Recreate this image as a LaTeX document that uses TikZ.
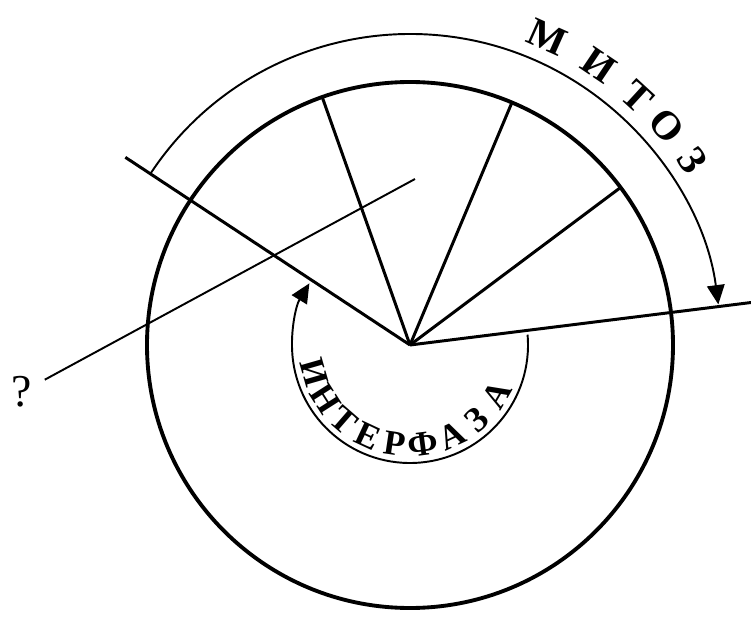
\documentclass[tikz,border=0pt]{standalone}
\usepackage{fontspec}
\setmainfont{Liberation Serif}
\usetikzlibrary{arrows.meta}

\begin{document}
\begin{tikzpicture}[x=0.02cm, y=0.02cm, >={Triangle[length=11pt,width=10pt]},
  ring/.style={line width=2.2pt},
  spoke/.style={line width=1.7pt},
  phase/.style={line width=1.1pt, ->},
  mitletter/.style={font=\fontsize{23}{27}\selectfont\bfseries, inner sep=0pt},
  intletter/.style={font=\fontsize{20}{24}\selectfont\bfseries, inner sep=0pt}]
  \useasboundingbox (-410,-274) rectangle (341,345);
  \coordinate (C) at (0,0);
  % cycle boundaries
  \coordinate (B1) at (146.6:341);
  \coordinate (B2) at (109.5:263);
  \coordinate (B3) at (67.2:263);
  \coordinate (B4) at (36.8:263);
  \coordinate (B5) at (7.1:344);
  \draw[ring] (C) circle[radius=263];
  \foreach \b in {B1,B2,B3,B4,B5}
    \draw[spoke] (C) -- (\b);
  % mitosis
  \coordinate (M0) at (146.6:311);
  \draw[phase] (M0) arc[start angle=146.6, end angle=7.5, radius=311];
  \foreach \ch/\a [count=\i] in {М/65.9, И/56, Т/47.5, О/40.5, З/33.2}
    \node[mitletter, rotate=\a-90] (mit\i) at (\a:337) {\ch};
  % interphase
  \coordinate (I0) at (5:118);
  \draw[phase] (I0) arc[start angle=5, end angle=-211.5, radius=118];
  \foreach \ch/\a [count=\i] in {И/196, Н/212.5, Т/229, Е/245, Р/261.5, Ф/277.5, А/295, З/312, А/330}
    \node[intletter, rotate=\a+90] (int\i) at (\a:100) {\ch};
  % question
  \node[font=\fontsize{26}{28}\selectfont, inner xsep=7pt, inner ysep=0pt] (Q) at (-388,-47) {?};
  \coordinate (Qend) at (5,166);
  \draw[line width=1.1pt] (Q) -- (Qend);
\end{tikzpicture}
\end{document}
